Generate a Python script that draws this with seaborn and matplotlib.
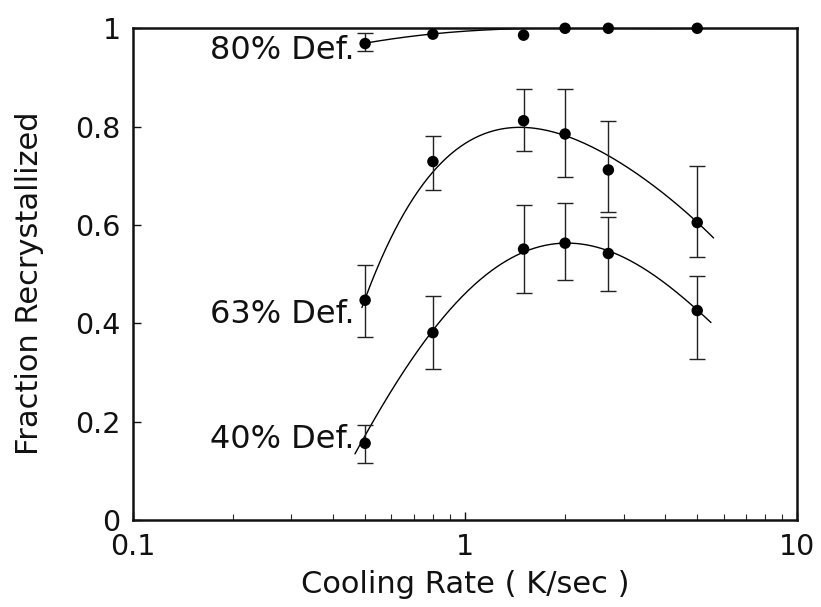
import numpy as np
import pandas as pd
import matplotlib
matplotlib.use("Agg")
import matplotlib.pyplot as plt
from matplotlib.ticker import FixedLocator, NullFormatter
import seaborn as sns

nan = np.nan

rate = [0.5, 0.8, 1.5, 2.0, 2.7, 5.0]          # cooling rate, K/sec

frac80 = [0.969, 0.988, 0.986, 1.0, 1.0, 1.0]
hi80 = [0.990, nan, nan, nan, nan, nan]
lo80 = [0.954, nan, nan, nan, nan, nan]

frac63 = [0.447, 0.729, 0.812, 0.785, 0.712, 0.605]
hi63 = [0.519, 0.780, 0.877, 0.877, 0.812, 0.720]
lo63 = [0.373, 0.671, 0.751, 0.698, 0.627, 0.534]

frac40 = [0.156, 0.381, 0.551, 0.563, 0.542, 0.426]
hi40 = [0.193, 0.456, 0.641, 0.644, 0.617, 0.497]
lo40 = [0.115, 0.308, 0.461, 0.488, 0.466, 0.327]

# ---- fitted curves as drawn in the reference ----
fit80_rate = [0.494, 0.594, 0.789, 1.06, 1.48, 2.0, 3.0, 5.0]
fit80_frac = [0.969, 0.978, 0.988, 0.995, 1.0, 1.0, 1.0, 1.0]

fit63_rate = [0.489, 0.530, 0.594, 0.683, 0.785, 0.944, 1.19, 1.48,
              1.68, 1.98, 2.33, 2.67, 3.44, 4.54, 4.99, 5.60]
fit63_frac = [0.420, 0.500, 0.583, 0.651, 0.691, 0.746, 0.786, 0.801,
              0.800, 0.785, 0.766, 0.742, 0.691, 0.630, 0.605, 0.576]

fit40_rate = [0.466, 0.500, 0.594, 0.794, 1.06, 1.48, 1.98, 2.22,
              2.67, 3.78, 4.99, 5.50]
fit40_frac = [0.129, 0.176, 0.264, 0.381, 0.468, 0.551, 0.564, 0.563,
              0.544, 0.495, 0.426, 0.403]

labels = ["80% Def.", "63% Def.", "40% Def."]
label_y = [0.937, 0.401, 0.146]

xticks = [0.1, 1, 10]
xtick_labels = ["0.1", "1", "10"]
yticks = [0, 0.2, 0.4, 0.6, 0.8, 1.0]
ytick_labels = ["0", "0.2", "0.4", "0.6", "0.8", "1"]

# ---- style ----
sns.set_style("ticks")
plt.rcParams["font.family"] = ["DejaVu Sans"]

fig = plt.figure(figsize=(8.21, 6.07), dpi=100)
ax = fig.add_axes([0.162, 0.1433, 0.809, 0.8101])

series = [(frac80, hi80, lo80), (frac63, hi63, lo63), (frac40, hi40, lo40)]
fits = [(fit80_rate, fit80_frac), (fit63_rate, fit63_frac), (fit40_rate, fit40_frac)]

frames = []
for (y, hi, lo), lab in zip(series, labels):
    frames.append(pd.DataFrame({"rate": rate, "frac": y, "hi": hi, "lo": lo, "series": lab}))
df = pd.concat(frames, ignore_index=True)

for lab, (fr, ff) in zip(labels, fits):
    # smooth the read-off curve with a polynomial in log10(rate)
    u = np.log10(np.asarray(fr))
    coef = np.polyfit(u, np.asarray(ff), 4)
    uu = np.linspace(u.min(), u.max(), 300)
    yy = np.minimum(np.polyval(coef, uu), 1.0)
    sns.lineplot(x=10 ** uu, y=yy, color="black", lw=1.0, ax=ax, sort=False)

    d = df[df["series"] == lab]
    yv = d["frac"].to_numpy()
    err = np.vstack([yv - d["lo"].to_numpy(), d["hi"].to_numpy() - yv])
    ax.errorbar(d["rate"], yv, yerr=err, fmt="none", ecolor="#222222",
                elinewidth=1.0, capsize=6, capthick=1.0, clip_on=False)

sns.scatterplot(data=df, x="rate", y="frac", color="black", s=68,
                edgecolor="none", ax=ax, legend=False, clip_on=False, zorder=5)

for lab, ly in zip(labels, label_y):
    ax.text(0.466, ly, lab, ha="right", va="baseline", fontsize=23, color="#111111")

ax.set_xscale("log")
ax.set_xlim(0.1, 10)
ax.set_ylim(0, 1)
ax.xaxis.set_major_locator(FixedLocator(xticks))
ax.set_xticklabels(xtick_labels)
minors = [m * d for d in (0.1, 1) for m in range(2, 10)]
ax.xaxis.set_minor_locator(FixedLocator(minors))
ax.xaxis.set_minor_formatter(NullFormatter())
ax.set_yticks(yticks)
ax.set_yticklabels(ytick_labels)

ax.tick_params(axis="both", which="major", direction="in", length=6, width=1.0,
               labelsize=20.5, pad=9, colors="#111111")
ax.tick_params(axis="x", which="minor", direction="in", length=4, width=0.8)
for s in ax.spines.values():
    s.set_linewidth(1.8)
    s.set_color("#111111")

ax.set_xlabel("Cooling Rate ( K/sec )", fontsize=22, labelpad=7, color="#111111")
ax.set_ylabel("Fraction Recrystallized", fontsize=22, color="#111111")
ax.yaxis.set_label_coords(-0.134, 0.481)

fig.savefig("out.png", dpi=100)
